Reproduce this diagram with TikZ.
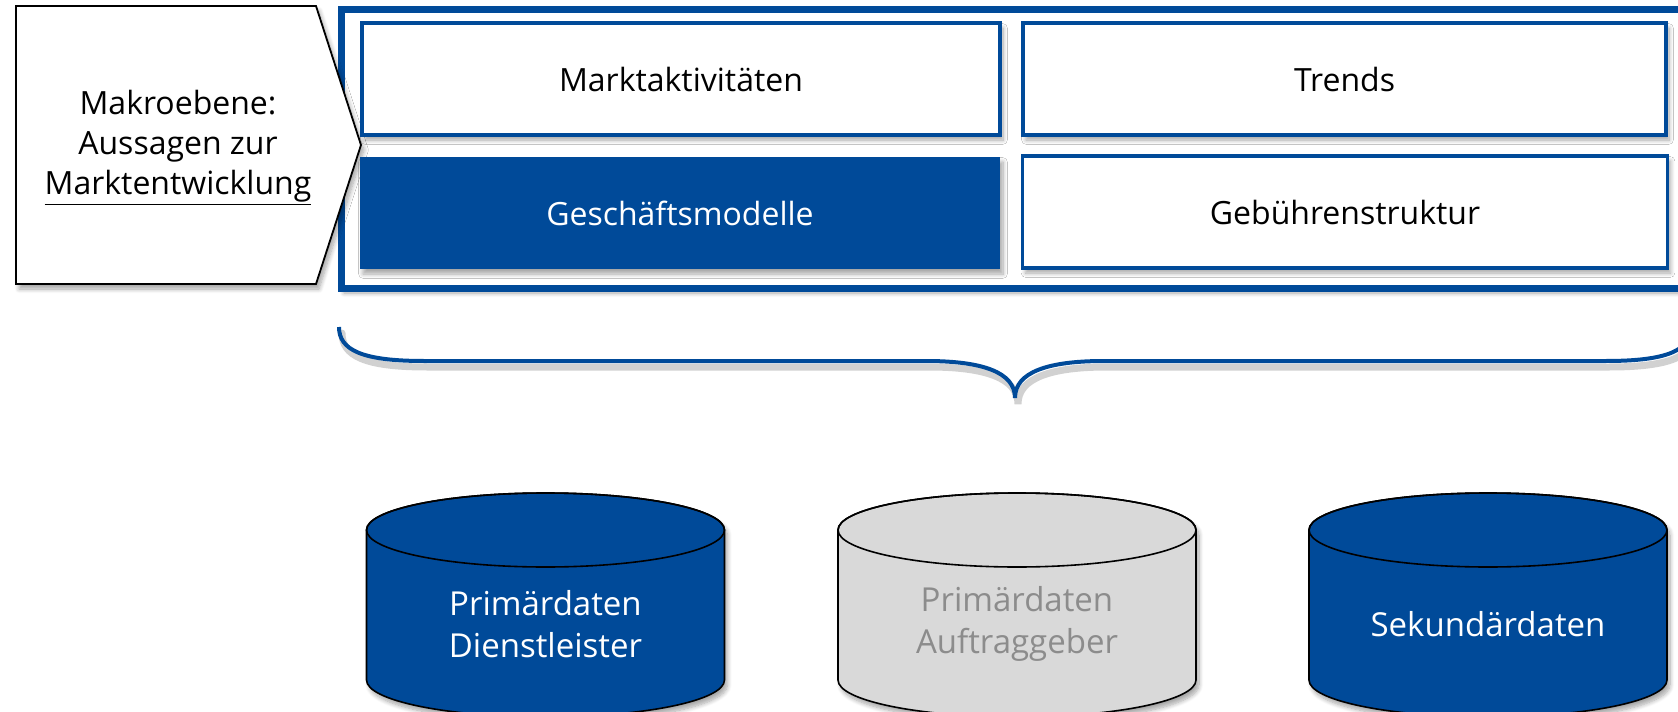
\documentclass[tikz,border=0pt]{standalone}
\usepackage{fontspec}
\setmainfont{Open Sans}
\usetikzlibrary{shadows.blur}
\definecolor{navy}{RGB}{0,74,153}
\definecolor{cylgray}{RGB}{217,217,217}
\definecolor{txtgray}{RGB}{140,140,140}

\begin{document}
\begin{tikzpicture}[x=0.5pt,y=-0.5pt,
  softshadow/.style={blur shadow={shadow xshift=1.5pt,shadow yshift=-2.5pt,shadow blur steps=8,shadow opacity=35}},
  label/.style={font=\fontsize{16pt}{20pt}\selectfont, align=center, inner sep=0pt},
  dblabel/.style={label, font=\fontsize{16.5pt}{21pt}\selectfont},
  tile/.style={draw=navy, line width=1.6pt, fill=white, minimum height=56pt,
    inner sep=0pt, outer sep=0pt, softshadow, label},
  tilefull/.style={fill=navy, text=white, minimum height=56pt, inner sep=0pt,
    outer sep=0pt, softshadow, label},
  dbbody/.style={draw=black, line width=0.8pt, softshadow}]

\useasboundingbox (0,0) rectangle (1678,712);
\clip (0,0) rectangle (1678,712);

% outer frame around the four topics
\filldraw[fill=white, draw=navy, line width=3.5pt, softshadow] (341,9.5) rectangle (1686,288);

% pentagon label on the left
\filldraw[fill=white, draw=black, line width=0.9pt, softshadow]
  (16,6) -- (316,6) -- (361,145) -- (316,284) -- (16,284) -- cycle;
\node[label] (makro) at (178,148)
  {Makroebene:\\Aussagen zur\\\underline{Marktentwicklung}};

% topic tiles
\node[tile, minimum width=319pt] (markt) at (681,79) {Marktaktivitäten};
\node[tile, minimum width=321.5pt] (trends) at (1344.5,79) {Trends};
\node[tilefull, minimum width=320pt] (gesch) at (680,213) {Geschäftsmodelle};
\node[tile, minimum width=322.5pt] (gebuehr) at (1345,212) {Gebührenstruktur};

% curly brace under the frame
\draw[black, opacity=0.18, line width=3.5pt, line cap=round, shift={(3,6)}]
  (339,327) .. controls (339,350) and (362,361) .. (424,361) -- (926,361)
  .. controls (982,361) and (1015,372) .. (1015,398)
  .. controls (1015,372) and (1048,361) .. (1104,361) -- (1606,361)
  .. controls (1668,361) and (1691,350) .. (1691,327);
\draw[navy, line width=2pt]
  (339,327) .. controls (339,350) and (362,361) .. (424,361) -- (926,361)
  .. controls (982,361) and (1015,372) .. (1015,398)
  .. controls (1015,372) and (1048,361) .. (1104,361) -- (1606,361)
  .. controls (1668,361) and (1691,350) .. (1691,327);

% data sources
\foreach \cx/\fc in {545.5/navy, 1017/cylgray, 1488/navy}{
  \filldraw[dbbody, fill=\fc]
    (\cx-179,530) -- (\cx-179,680)
    arc[start angle=180, end angle=0, x radius=179, y radius=37]
    -- (\cx+179,530)
    arc[start angle=0, end angle=-180, x radius=179, y radius=37] -- cycle;
  \draw[black, line width=0.8pt] (\cx,530) ellipse[x radius=179, y radius=37];
}
\node[dblabel, text=white] (dienst) at (545.5,624) {Primärdaten\\Dienstleister};
\node[dblabel, text=txtgray] (auftrag) at (1017,624) {Primärdaten\\Auftraggeber};
\node[dblabel, text=white] (sekund) at (1488,624) {Sekundärdaten};
\end{tikzpicture}
\end{document}
